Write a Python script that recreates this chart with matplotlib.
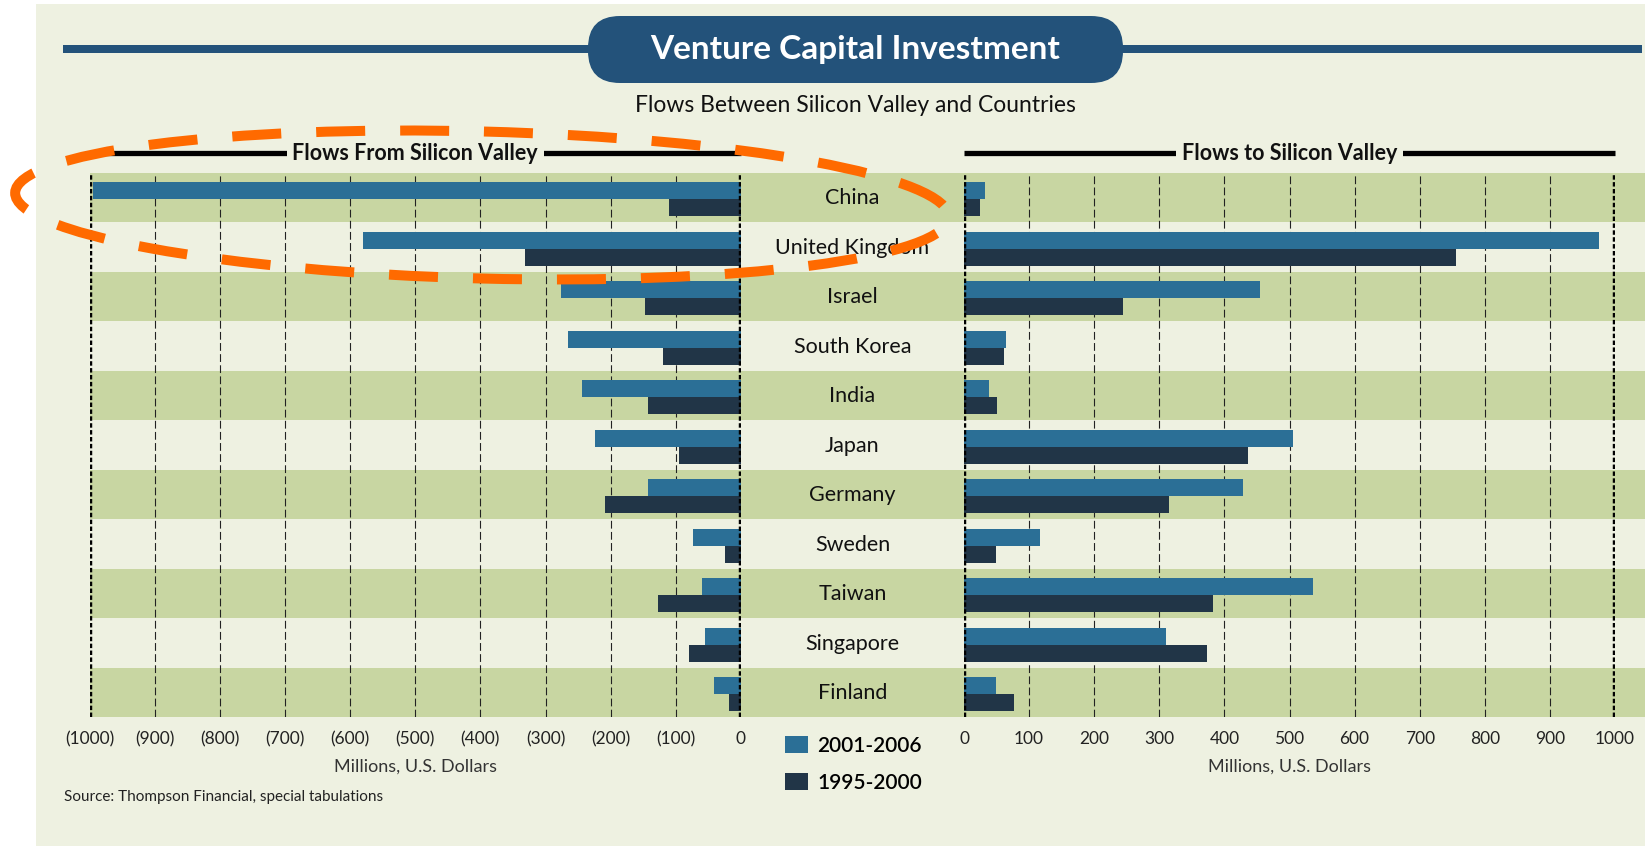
import numpy as np
import matplotlib
matplotlib.use("Agg")
import matplotlib.pyplot as plt
from matplotlib.patches import Rectangle, Ellipse, FancyBboxPatch
from matplotlib.transforms import blended_transform_factory

plt.rcParams['font.family'] = ['Lato', 'DejaVu Sans']

# data, millions of US dollars
countries = ["China", "United Kingdom", "Israel", "South Korea", "India", "Japan",
             "Germany", "Sweden", "Taiwan", "Singapore", "Finland"]
from_2001_2006 = [995, 580, 276, 265, 244, 224, 142, 73, 60, 55, 41]
from_1995_2000 = [111, 332, 148, 119, 142, 95, 208, 25, 127, 80, 19]
to_2001_2006 = [32, 976, 454, 65, 39, 506, 429, 116, 536, 310, 49]
to_1995_2000 = [25, 755, 245, 62, 51, 436, 315, 49, 382, 373, 77]
left_ticks = [-1000, -900, -800, -700, -600, -500, -400, -300, -200, -100, 0]
left_ticklabels = ["(1000)", "(900)", "(800)", "(700)", "(600)", "(500)",
                   "(400)", "(300)", "(200)", "(100)", "0"]
right_ticks = [0, 100, 200, 300, 400, 500, 600, 700, 800, 900, 1000]
series_names = ["2001-2006", "1995-2000"]

BG = '#eef1e1'
GREEN = '#c8d6a2'
BLUE = '#2b6f96'
DARK = '#213547'
TITLE_BLUE = '#23527a'

W, H = 1645, 846
fig = plt.figure(figsize=(W / 100, H / 100), dpi=100)
fig.patch.set_facecolor('white')

# background panel
bg = fig.add_axes([0, 0, 1, 1], zorder=-10)
bg.set_xlim(0, W)
bg.set_ylim(H, 0)
bg.axis('off')
bg.add_patch(Rectangle((36, 4), W - 36, H - 4, color=BG, lw=0))

y_top, y_bot = 172.5, 717
ax_b = 1 - y_bot / H
ax_h = (y_bot - y_top) / H
n = len(countries)
rows = np.arange(n)

# band axes (alternating stripes)
band = fig.add_axes([89.5 / W, ax_b, (W - 89.5) / W, ax_h], zorder=-5)
band.set_ylim(n - 0.5, -0.5)
band.set_xlim(0, 1)
band.axis('off')
for i in rows:
    if i % 2 == 0:
        band.axhspan(i - 0.5, i + 0.5, color=GREEN, lw=0)

axL = fig.add_axes([89.5 / W, ax_b, 651.5 / W, ax_h])
axR = fig.add_axes([964 / W, ax_b, 651 / W, ax_h])

bh = 0.34
for ax, a, b, lo, hi, ticks, tlabels in [
        (axL, -np.array(from_2001_2006), -np.array(from_1995_2000), -1000, 0, left_ticks, left_ticklabels),
        (axR, np.array(to_2001_2006), np.array(to_1995_2000), 0, 1000, right_ticks, [str(t) for t in right_ticks])]:
    ax.patch.set_alpha(0)
    ax.barh(rows - 0.13, a, height=bh, color=BLUE, zorder=3, label=series_names[0])
    ax.barh(rows + 0.21, b, height=bh, color=DARK, zorder=3, label=series_names[1])
    ax.set_xlim(lo, hi)
    ax.set_ylim(n - 0.5, -0.5)
    for t in ticks[1:-1]:
        ax.axvline(t, color='#222222', lw=0.8, ls=(0, (7, 3)), zorder=1)
    for t in (lo, hi):
        ax.axvline(t, color='black', lw=3.2, ls=(0, (1.0, 0.55)), zorder=5)
    ax.set_xticks(ticks)
    ax.set_xticklabels(tlabels)
    ax.set_yticks([])
    ax.tick_params(axis='x', length=0, pad=10, labelsize=12.5, labelcolor='#222222')
    for s in ax.spines.values():
        s.set_visible(False)
    ax.text(0.5, -0.092, "Millions, U.S. Dollars", transform=ax.transAxes,
            ha='center', va='center', fontsize=13, color='#333333')

# panel headers
for ax, title in [(axL, "Flows From Silicon Valley"), (axR, "Flows to Silicon Valley")]:
    yy = 1 + (y_top - 153) / (y_bot - y_top)
    ax.plot([0, 1], [yy, yy], transform=ax.transAxes, color='black', lw=3.8,
            clip_on=False, solid_capstyle='butt')
    ax.text(0.5, yy, title, transform=ax.transAxes, ha='center', va='center',
            fontsize=15.5, fontweight='bold', color='#111111',
            bbox=dict(facecolor=BG, edgecolor='none', pad=4))

# country labels in the middle column
trans = blended_transform_factory(fig.transFigure, axL.transData)
for i, c in enumerate(countries):
    fig.text(852.5 / W, i + 0.02, c, transform=trans, ha='center', va='center',
             fontsize=15.5, color='#111111')

# legend
handles, labels = axL.get_legend_handles_labels()
fig.legend(handles, labels, loc='upper left', bbox_to_anchor=(785 / W, 1 - 736 / H),
           frameon=False, borderpad=0, borderaxespad=0, handlelength=1.1, handleheight=0.9,
           handletextpad=0.45, labelspacing=0.8,
           prop={'size': 15, 'weight': 'semibold'})

fig.text(64 / W, 1 - 797 / H, "Source: Thompson Financial, special tabulations",
         ha='left', va='center', fontsize=11, color='#222222')

# overlay: title bar and annotation ellipse
ov = fig.add_axes([0, 0, 1, 1], zorder=10)
ov.set_xlim(0, W)
ov.set_ylim(H, 0)
ov.axis('off')
ov.patch.set_alpha(0)
ov.add_patch(Rectangle((63, 45), 1642 - 63, 8, color=TITLE_BLUE, lw=0))
ov.add_patch(FancyBboxPatch((588, 16), 1123 - 588, 83 - 16,
                            boxstyle="round,pad=0,rounding_size=32",
                            facecolor=TITLE_BLUE, edgecolor='none'))
ov.text(855.5, 50, "Venture Capital Investment", ha='center', va='center',
        fontsize=24, fontweight='bold', color='white')
ov.text(855.5, 105, "Flows Between Silicon Valley and Countries", ha='center', va='center',
        fontsize=16.5, color='#111111')
ell = Ellipse((482, 205), 934, 147, angle=1.5, fill=False, edgecolor='#ff6a00',
              lw=7.2, linestyle=(0, (4.9, 3.5)))
ov.add_patch(ell)

fig.savefig('out.png', dpi=100, facecolor=fig.get_facecolor())
